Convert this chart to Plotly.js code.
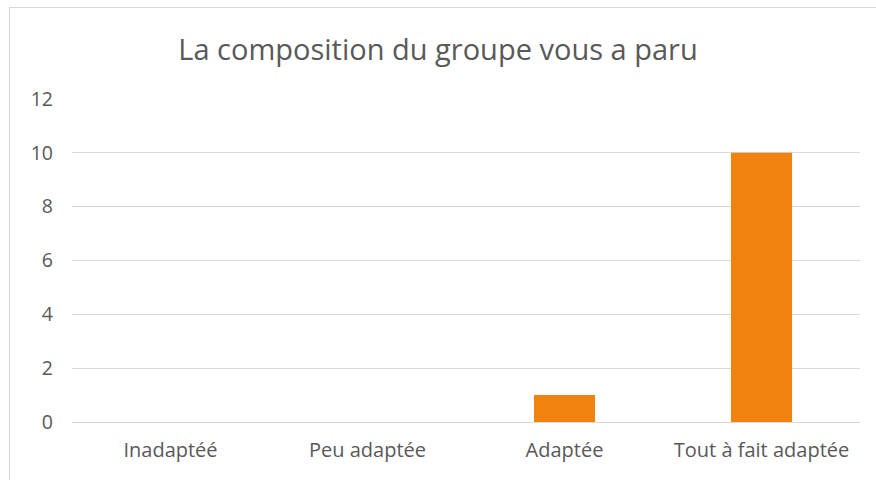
<!DOCTYPE html>
<html>
<head>
<meta charset="utf-8">
<script src="https://cdn.plot.ly/plotly-3.0.1.min.js"></script>
<style>
html,body{margin:0;padding:0;background:#fff;}
#wrap{position:relative;width:876px;height:480px;overflow:hidden;}
#chart{width:876px;height:480px;}
#frame{position:absolute;left:9px;top:7px;width:900px;height:500px;border-left:1px solid #d9d9d9;border-top:1px solid #d9d9d9;pointer-events:none;}
</style>
</head>
<body>
<div id="wrap"><div id="chart"></div><div id="frame"></div></div>
<script>
const categories = ["Inadaptéé", "Peu adaptée", "Adaptée", "Tout à fait adaptée"];
const values = [0, 0, 1, 10];
const yTicks = [0, 2, 4, 6, 8, 10, 12];
const chartTitle = "La composition du groupe vous a paru";

const font = "'Open Sans', 'Noto Sans', sans-serif";
Plotly.newPlot("chart", [{
  type: "bar",
  x: categories,
  y: values,
  marker: {color: "#F0820F"},
  width: 0.31,
  hoverinfo: "none"
}], {
  width: 876, height: 480,
  margin: {l: 72, r: 16, t: 99, b: 58},
  paper_bgcolor: "#fff", plot_bgcolor: "#fff",
  title: {text: chartTitle, font: {family: font, size: 29, color: "#595959"}, x: 0.5, xanchor: "center", y: 1 - 50/480, yanchor: "middle"},
  xaxis: {
    type: "category",
    tickfont: {family: font, size: 20, color: "#595959"},
    showgrid: false, showline: false, zeroline: false, ticks: "",
    ticklabelstandoff: 14
  },
  yaxis: {
    range: [0, 12],
    tickvals: yTicks,
    ticktext: yTicks.map(String),
    tickfont: {family: font, size: 19.5, color: "#595959"},
    showgrid: true, gridcolor: "#d9d9d9", gridwidth: 1,
    zeroline: true, zerolinecolor: "#d9d9d9", zerolinewidth: 1,
    showline: false, ticks: "",
    ticklabelstandoff: 18
  },
  showlegend: false
}, {displayModeBar: false, staticPlot: true});
</script>
</body>
</html>
